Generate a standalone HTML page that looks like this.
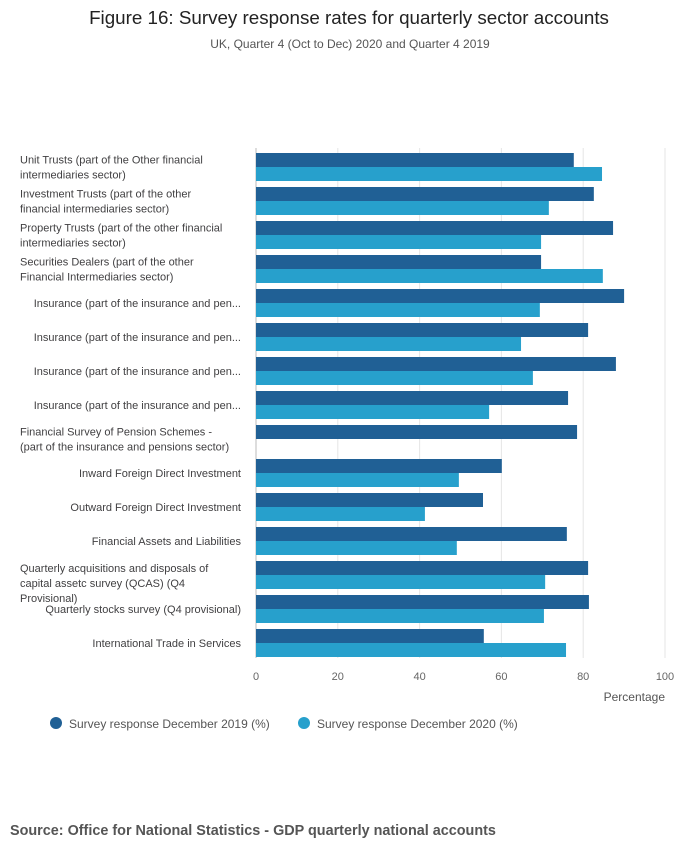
<!DOCTYPE html>
<html><head><meta charset="utf-8">
<style>
body{margin:0;background:#fff;font-family:"Liberation Sans",sans-serif;}
svg text{font-family:"Liberation Sans",sans-serif;}
</style></head>
<body>
<svg width="700" height="857" viewBox="0 0 700 857" xmlns="http://www.w3.org/2000/svg">
<text x="349" y="24" text-anchor="middle" font-size="18.8" fill="#222">Figure 16: Survey response rates for quarterly sector accounts</text>
<text x="350" y="48" text-anchor="middle" font-size="12" fill="#555">UK, Quarter 4 (Oct to Dec) 2020 and Quarter 4 2019</text>
<g id="grid"></g>
<g id="bars"></g>
<g id="labels"></g>
<g id="ticks"></g>
<text x="665" y="701" text-anchor="end" font-size="12" fill="#555">Percentage</text>
<g>
<g>
<circle cx="56" cy="723" r="6" fill="#206095"></circle>
<text x="69" y="728" font-size="12" fill="#555">Survey response December 2019 (%)</text></g>
<g>
<circle cx="304" cy="723" r="6" fill="#27a0cc"></circle>
<text x="317" y="728" font-size="12" fill="#555">Survey response December 2020 (%)</text></g>
</g>
<text x="10" y="835" font-size="14.4" font-weight="bold" fill="#555">Source: Office for National Statistics - GDP quarterly national accounts</text>
</svg>
<script>
const categories=[
["Unit Trusts (part of the Other financial","intermediaries sector)"],
["Investment Trusts (part of the other","financial intermediaries sector)"],
["Property Trusts (part of the other financial","intermediaries sector)"],
["Securities Dealers (part of the other","Financial Intermediaries sector)"],
["Insurance (part of the insurance and pen..."],
["Insurance (part of the insurance and pen..."],
["Insurance (part of the insurance and pen..."],
["Insurance (part of the insurance and pen..."],
["Financial Survey of Pension Schemes -","(part of the insurance and pensions sector)"],
["Inward Foreign Direct Investment"],
["Outward Foreign Direct Investment"],
["Financial Assets and Liabilities"],
["Quarterly acquisitions and disposals of","capital assetc survey (QCAS) (Q4","Provisional)"],
["Quarterly stocks survey (Q4 provisional)"],
["International Trade in Services"]];
const values2019=[77.7,82.6,87.3,69.7,90,81.2,88,76.3,78.5,60.1,55.5,76,81.2,81.4,55.7];
const values2020=[84.6,71.6,69.7,84.8,69.4,64.8,67.7,57,0,49.6,41.3,49.1,70.7,70.4,75.8];
const tickValues=[0,20,40,60,80,100];
const NS="http://www.w3.org/2000/svg";
const x0=256,x1=665,y0=150,band=34;
const xs=v=>x0+(x1-x0)*v/100;
function mk(t,a,p){const e=document.createElementNS(NS,t);for(const k in a)e.setAttribute(k,a[k]);p.appendChild(e);return e;}
const grid=document.getElementById('grid'),bars=document.getElementById('bars'),labels=document.getElementById('labels'),ticks=document.getElementById('ticks');
tickValues.forEach(v=>{
 const l=mk('line',{x1:xs(v),x2:xs(v),y1:148,y2:658,stroke:v===0?'#bbb':'#e5e5e5','stroke-width':1},grid);
 
 
 const t=mk('text',{x:xs(v),y:680,'text-anchor':'middle','font-size':11,fill:'#666'},ticks);
 t.textContent=v;
 
 
});
categories.forEach((c,i)=>{
 const top=y0+band*i+3;
 const b1=mk('rect',{x:x0,y:top,width:xs(values2019[i])-x0,height:14,fill:'#206095'},bars);
 
 
 if(values2020[i]>0){
 const b2=mk('rect',{x:x0,y:top+14,width:xs(values2020[i])-x0,height:14,fill:'#27a0cc'},bars);
 
 
 }
 const cy=top+14;
 const n=c.length;
 const multi=n>1;
 const g=mk('text',{'font-size':11,fill:'#414042','text-anchor':multi?'start':'end'},labels);
 
 
 const startY=n===3?cy-7:cy-(n-1)*7.5;
 c.forEach((line,j)=>{
  const ts=mk('tspan',{x:multi?20:241,y:startY+j*15+4},g);
  ts.textContent=line;
 });
});
</script>
</body></html>
